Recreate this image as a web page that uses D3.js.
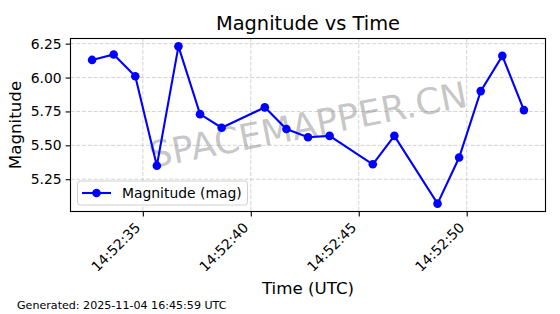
<!DOCTYPE html>
<html lang="en">
	<head>
		<meta charset="utf-8">
		<title>Magnitude vs Time</title>
		<script type="text/javascript" src="https://d3js.org/d3.v7.min.js"></script>
		<style type="text/css">
body{
	margin: 0;
	background: white;
}
text{
	font-family: "DejaVu Sans", sans-serif;
}
		</style>
	</head>
	<body>
		<script>
//Data
var times = ["14:52:32.65", "14:52:33.65", "14:52:34.65", "14:52:35.65", "14:52:36.65",
             "14:52:37.65", "14:52:38.65", "14:52:40.65", "14:52:41.65", "14:52:42.65",
             "14:52:43.65", "14:52:45.65", "14:52:46.65", "14:52:48.65", "14:52:49.65",
             "14:52:50.65", "14:52:51.65", "14:52:52.65"];
var mags = [6.13, 6.17, 6.01, 5.35, 6.23, 5.73, 5.63, 5.78, 5.62, 5.56,
            5.57, 5.36, 5.57, 5.07, 5.41, 5.90, 6.16, 5.76];
var yTicks = [5.25, 5.50, 5.75, 6.00, 6.25];
var xTickSeconds = [35, 40, 45, 50];

//Width and height
const w = 560;
const h = 314;
const pLeft = 70.5, pRight = 545.5, pTop = 38.5, pBottom = 211.5;

var parseTime = d3.timeParse("%Y-%m-%d %H:%M:%S.%L");
var data = times.map(function(t, i) {
	return {t: parseTime("2025-11-04 " + t + "0"), m: mags[i]};
});

//Matplotlib-like 5% margins
var tExt = d3.extent(data, function(d) { return d.t; });
var tPad = (tExt[1] - tExt[0]) * 0.05;
var mExt = d3.extent(data, function(d) { return d.m; });
var mPad = (mExt[1] - mExt[0]) * 0.05;

var x = d3.scaleTime()
		.domain([new Date(+tExt[0] - tPad), new Date(+tExt[1] + tPad)])
		.range([pLeft, pRight]);
var y = d3.scaleLinear()
		.domain([mExt[0] - mPad, mExt[1] + mPad])
		.range([pBottom, pTop]);

var xTicks = xTickSeconds.map(function(s) { return parseTime("2025-11-04 14:52:" + s + ".000"); });

var svg = d3.select("body")
			.append("svg")
			.attr("width", w)
			.attr("height", h);

//Grid
svg.append("g")
	.selectAll("line")
	.data(xTicks)
	.enter()
	.append("line")
	.attr("x1", function(d) { return x(d); })
	.attr("x2", function(d) { return x(d); })
	.attr("y1", pTop)
	.attr("y2", pBottom)
	.attr("stroke", "#b0b0b0")
	.attr("stroke-opacity", 0.7)
	.attr("stroke-width", 0.8)
	.attr("stroke-dasharray", "4,1.8");
svg.append("g")
	.selectAll("line")
	.data(yTicks)
	.enter()
	.append("line")
	.attr("x1", pLeft)
	.attr("x2", pRight)
	.attr("y1", function(d) { return y(d); })
	.attr("y2", function(d) { return y(d); })
	.attr("stroke", "#b0b0b0")
	.attr("stroke-opacity", 0.7)
	.attr("stroke-width", 0.8)
	.attr("stroke-dasharray", "4,1.8");

//Watermark
svg.append("text")
	.attr("transform", "translate(" + ((pLeft + pRight) / 2) + "," + ((pTop + pBottom) / 2) + ") rotate(-11)")
	.attr("text-anchor", "middle")
	.attr("dominant-baseline", "central")
	.style("font-size", "36px")
	.style("fill", "#808080")
	.style("fill-opacity", 0.45)
	.text("SPACEMAPPER.CN");

//Line and markers
var line = d3.line()
	.x(function(d) { return x(d.t); })
	.y(function(d) { return y(d.m); });

svg.append("path")
	.datum(data)
	.attr("d", line)
	.attr("fill", "none")
	.attr("stroke", "#0000ff")
	.attr("stroke-width", 2.1);

svg.selectAll("circle.pt")
	.data(data)
	.enter()
	.append("circle")
	.attr("class", "pt")
	.attr("cx", function(d) { return x(d.t); })
	.attr("cy", function(d) { return y(d.m); })
	.attr("r", 4.3)
	.attr("fill", "#0000ff");

//Axes
var xAxis = d3.axisBottom(x)
	.tickValues(xTicks)
	.tickSize(4.9)
	.tickFormat(d3.timeFormat("%H:%M:%S"));
var gx = svg.append("g")
	.attr("transform", "translate(0," + pBottom + ")")
	.call(xAxis);
gx.select(".domain").remove();
gx.selectAll("line").attr("stroke", "black").attr("stroke-width", 1.1);
gx.selectAll("text")
	.style("font-size", "13.9px")
	.style("fill", "black")
	.attr("text-anchor", "end")
	.attr("dy", null)
	.attr("y", null)
	.attr("transform", "translate(-2,17) rotate(-45)");

var yAxis = d3.axisLeft(y)
	.tickValues(yTicks)
	.tickSize(4.9)
	.tickPadding(4)
	.tickFormat(d3.format(".2f"));
var gy = svg.append("g")
	.attr("transform", "translate(" + pLeft + ",0)")
	.call(yAxis);
gy.select(".domain").remove();
gy.selectAll("line").attr("stroke", "black").attr("stroke-width", 1.1);
gy.selectAll("text")
	.style("font-size", "13.9px")
	.style("fill", "black");

//Frame
svg.append("rect")
	.attr("x", pLeft)
	.attr("y", pTop)
	.attr("width", pRight - pLeft)
	.attr("height", pBottom - pTop)
	.attr("fill", "none")
	.attr("stroke", "black")
	.attr("stroke-width", 1.1);

//Legend
var lg = svg.append("g");
lg.append("rect")
	.attr("x", 77.5)
	.attr("y", 181)
	.attr("width", 170)
	.attr("height", 24)
	.attr("rx", 3)
	.attr("fill", "white")
	.attr("fill-opacity", 0.8)
	.attr("stroke", "#d0d0d0")
	.attr("stroke-width", 1);
lg.append("line")
	.attr("x1", 82)
	.attr("x2", 111)
	.attr("y1", 193)
	.attr("y2", 193)
	.attr("stroke", "#0000ff")
	.attr("stroke-width", 2.1);
lg.append("circle")
	.attr("cx", 96.5)
	.attr("cy", 193)
	.attr("r", 4.3)
	.attr("fill", "#0000ff");
lg.append("text")
	.attr("x", 122)
	.attr("y", 197.5)
	.style("font-size", "13.9px")
	.text("Magnitude (mag)");

//Titles
svg.append("text")
	.attr("x", (pLeft + pRight) / 2)
	.attr("y", 29.5)
	.attr("text-anchor", "middle")
	.style("font-size", "19.4px")
	.text("Magnitude vs Time");

svg.append("text")
	.attr("x", (pLeft + pRight) / 2)
	.attr("y", 293.5)
	.attr("text-anchor", "middle")
	.style("font-size", "16.7px")
	.text("Time (UTC)");

svg.append("text")
	.attr("transform", "translate(21," + ((pTop + pBottom) / 2) + ") rotate(-90)")
	.attr("text-anchor", "middle")
	.style("font-size", "16.7px")
	.text("Magnitude");

svg.append("text")
	.attr("x", 17)
	.attr("y", 308.5)
	.style("font-size", "11.1px")
	.text("Generated: 2025-11-04 16:45:59 UTC");
		</script>
	</body>
</html>
